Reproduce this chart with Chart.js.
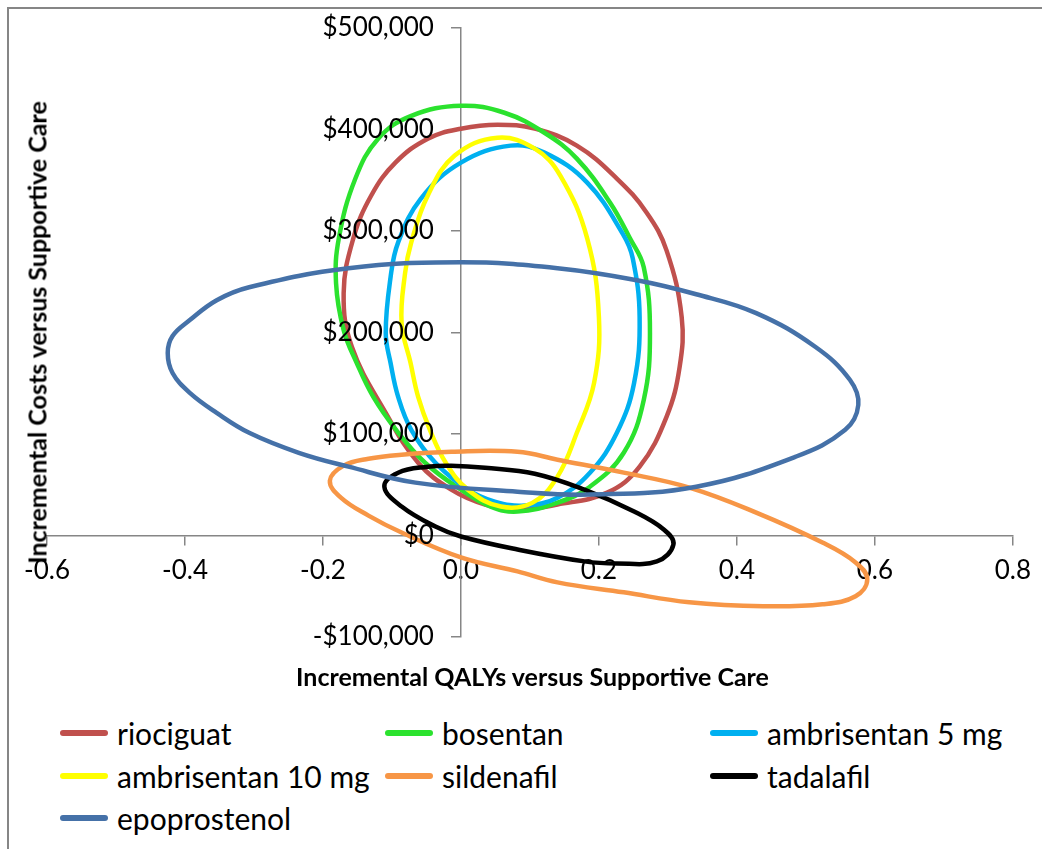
<!DOCTYPE html>
<html>
<head>
<meta charset="utf-8">
<script src="https://cdn.jsdelivr.net/npm/chart.js@4.4.1/dist/chart.umd.min.js"></script>
<style>
  html, body { margin: 0; padding: 0; background: #fff; overflow: hidden; }
  #wrap { position: relative; width: 1042px; height: 849px; font-family: Lato, sans-serif; color: #000; }
  #frame { position: absolute; left: 7px; top: 7px; width: 1100px; height: 900px; border: 2px solid #868686; box-sizing: border-box; }
  #chart { position: absolute; left: 0; top: 0; }
  .axis-title { position: absolute; font-weight: bold; font-size: 25px; line-height: 25px; white-space: nowrap; text-align: center; }
  #xTitle { left: 0; top: 664px; width: 1065px; }
  #yTitle { left: -263px; top: 320px; width: 600px; transform: rotate(-90deg); }
  .leg { position: absolute; height: 40px; display: flex; align-items: center; font-size: 30px; white-space: nowrap; }
  .leg span.mark { display: inline-block; width: 48px; height: 6px; border-radius: 3px; margin-right: 9px; }
</style>
</head>
<body>
<div id="wrap">
  <div id="frame"></div>
  <canvas id="chart" width="1042" height="700"></canvas>
  <div class="axis-title" id="xTitle">Incremental QALYs versus Supportive Care</div>
  <div class="axis-title" id="yTitle">Incremental Costs versus Supportive Care</div>
  <div id="legend"></div>
</div>
<script>
//1) DATA//
const drugNames = ['riociguat', 'bosentan', 'ambrisentan 5 mg', 'ambrisentan 10 mg', 'sildenafil', 'tadalafil', 'epoprostenol'];
const drugColors = ['#C0504D', '#2BE22E', '#00B0F0', '#FFFF00', '#F79646', '#000000', '#4571A8'];

const xTickLabels = ['-0.6', '-0.4', '-0.2', '0.0', '0.2', '0.4', '0.6', '0.8'];
const yTickLabels = ['-$100,000', '$0', '$100,000', '$200,000', '$300,000', '$400,000', '$500,000'];

// points read around each ellipse (QALYs, $), in drawing order
const riociguatQaly = [-0.170, -0.156, -0.130, -0.095, -0.048, 0.000, 0.053, 0.107, 0.168, 0.226, 0.269, 0.298, 0.320, 0.317, 0.298, 0.259, 0.212, 0.140, 0.082, 0.035, -0.014, -0.062, -0.109, -0.158];
const riociguatCost = [238700, 292700, 335000, 367400, 391000, 400800, 404700, 400800, 384100, 351700, 318300, 280900, 215100, 166000, 116900, 67800, 42200, 30500, 25500, 30500, 45200, 71700, 120800, 185700];

const bosentanQaly = [-0.181, -0.177, -0.153, -0.120, -0.072, 0.000, 0.063, 0.121, 0.168, 0.216, 0.245, 0.265, 0.274, 0.265, 0.236, 0.187, 0.140, 0.082, 0.043, 0.000, -0.052, -0.094, -0.127, -0.151, -0.170];
const bosentanCost = [248500, 292700, 351700, 391000, 413500, 423400, 416500, 396800, 371300, 328100, 292700, 264200, 199400, 133600, 81500, 48100, 32400, 23600, 28500, 45200, 71700, 104100, 136500, 169900, 202400];

const ambri5Qaly = [-0.109, -0.102, -0.091, -0.058, 0.000, 0.072, 0.121, 0.183, 0.235, 0.249, 0.259, 0.251, 0.226, 0.187, 0.140, 0.092, 0.049, 0.010, -0.037, -0.072, -0.091, -0.102];
const ambri5Cost = [199400, 254400, 288800, 332000, 367400, 384100, 377200, 347700, 296700, 273100, 215100, 150300, 101200, 61900, 37300, 29500, 33400, 45200, 71700, 104100, 136500, 169900];

const ambri10Qaly = [-0.086, -0.081, -0.072, -0.048, -0.009, 0.053, 0.107, 0.144, 0.183, 0.200, 0.193, 0.168, 0.140, 0.104, 0.058, 0.010, -0.022, -0.045, -0.062, -0.073];
const ambri10Cost = [209200, 258300, 288800, 335000, 374300, 391900, 381100, 354600, 292700, 215100, 150300, 101200, 58000, 32400, 28500, 45200, 71700, 104100, 136500, 169900];

const sildenafilQaly = [-0.190, -0.170, -0.134, -0.086, -0.014, 0.082, 0.140, 0.236, 0.331, 0.428, 0.524, 0.572, 0.589, 0.572, 0.524, 0.438, 0.331, 0.236, 0.140, 0.082, 0.000, -0.086, -0.134, -0.174];
const sildenafilCost = [54000, 68800, 75600, 79600, 82500, 82500, 74700, 61900, 47200, 22600, -6900, -26500, -43200, -59900, -67800, -69700, -65800, -56000, -46200, -35400, -21600, 2900, 19600, 37300];

const tadalafilQaly = [-0.111, -0.091, -0.048, -0.014, 0.035, 0.107, 0.179, 0.251, 0.294, 0.308, 0.284, 0.226, 0.179, 0.082, 0.000, -0.037, -0.086];
const tadalafilCost = [48100, 61900, 67800, 68800, 66800, 60900, 45200, 23600, 5900, -8800, -25500, -27500, -25500, -13800, -1000, 8800, 28500];

const epoQaly = [-0.425, -0.418, -0.393, -0.354, -0.307, -0.235, -0.163, -0.066, 0.082, 0.187, 0.341, 0.485, 0.557, 0.576, 0.564, 0.514, 0.428, 0.341, 0.255, 0.140, 0.000, -0.163, -0.307, -0.354, -0.393, -0.418];
const epoCost = [179800, 160100, 140500, 120800, 101200, 81500, 67800, 52100, 43200, 40300, 48100, 77600, 104100, 128700, 153200, 185700, 219100, 237700, 251500, 263300, 269100, 263300, 244600, 231800, 212200, 196500];

const allQaly = [riociguatQaly, bosentanQaly, ambri5Qaly, ambri10Qaly, sildenafilQaly, tadalafilQaly, epoQaly];
const allCost = [riociguatCost, bosentanCost, ambri5Cost, ambri10Cost, sildenafilCost, tadalafilCost, epoCost];

//2) DATASETS//
const datasets = drugNames.map((name, i) => ({
   label: name,
   data: allQaly[i].map((x, j) => ({ x: x, y: allCost[i][j] })),
   borderColor: drugColors[i],
   backgroundColor: drugColors[i],
   borderWidth: 4.5,
   showLine: true,
   pointRadius: 0,
   tension: 0.4,
   fill: false,
   order: drugNames.length - i   // later series on top, like the original
}));

// each ellipse is a closed curve: let the line element wrap round smoothly
const closeLoops = {
   id: 'closeLoops',
   beforeDatasetsDraw(chart) {
      chart.getSortedVisibleDatasetMetas().forEach(meta => {
         const line = meta.dataset;
         if (!line || !line.updateControlPoints) return;
         line._loop = true;
         line._fullLoop = true;
         line._pointsUpdated = false;
         delete line._segments;
         delete line._path;
         line.updateControlPoints(chart.chartArea, 'x');
      });
   }
};

// y labels sit left of the crossing axis, drawn over the curves
const yLabels = {
   id: 'yLabels',
   afterDatasetsDraw(chart) {
      const c = chart.ctx;
      const xs = chart.scales.x, ys = chart.scales.y;
      const right = xs.getPixelForValue(0) - 27;
      c.save();
      c.font = '26px Lato';
      c.fillStyle = '#000';
      c.textAlign = 'right';
      c.textBaseline = 'middle';
      ys.ticks.forEach((t, i) => {
         c.fillText(yTickLabels[i], right, ys.getPixelForValue(t.value));
      });
      c.restore();
   }
};

//3) CHART//
const axisGrey = '#868686';

const ctx = document.getElementById('chart').getContext('2d');
const ellipseChart = new Chart(ctx, {
   type: 'scatter',
   data: { datasets: datasets },
   plugins: [closeLoops, yLabels],
   options: {
      responsive: false,
      animation: false,
      layout: {
         autoPadding: false,
         padding: { left: 47, right: 23, top: 28, bottom: 63 }
      },
      plugins: {
         legend: { display: false },
         tooltip: { enabled: false }
      },
      scales: {
         x: {
            type: 'linear',
            position: { y: 0 },
            min: -0.6,
            max: 0.8,
            afterFit: s => { s.height = 0; },
            ticks: {
               stepSize: 0.2,
               color: '#000',
               font: { family: 'Lato', size: 26 },
               padding: 11,
               maxRotation: 0,
               autoSkip: false,
               callback: (v, i) => xTickLabels[i]
            },
            grid: { display: true, drawOnChartArea: false, drawTicks: true, tickLength: 9, color: axisGrey, lineWidth: 1.5 },
            border: { display: true, color: axisGrey, width: 1.5 }
         },
         y: {
            type: 'linear',
            position: { x: 0 },
            min: -100000,
            max: 500000,
            afterFit: s => { s.width = 0; },
            ticks: {
               stepSize: 100000,
               display: false,
               autoSkip: false
            },
            grid: { display: true, drawOnChartArea: false, drawTicks: true, tickLength: 9, color: axisGrey, lineWidth: 1.5 },
            border: { display: true, color: axisGrey, width: 1.5 }
         }
      }
   }
});

//4) LEGEND//
const legendBox = document.getElementById('legend');
const legCols = [60, 385, 710];
const legRows = [733, 776, 818];
drugNames.forEach((name, i) => {
   const item = document.createElement('div');
   item.className = 'leg';
   item.style.left = legCols[i % 3] + 'px';
   item.style.top = (legRows[Math.floor(i / 3)] - 20) + 'px';
   const mark = document.createElement('span');
   mark.className = 'mark';
   mark.style.background = drugColors[i];
   item.appendChild(mark);
   item.appendChild(document.createTextNode(name));
   legendBox.appendChild(item);
});
</script>
</body>
</html>
